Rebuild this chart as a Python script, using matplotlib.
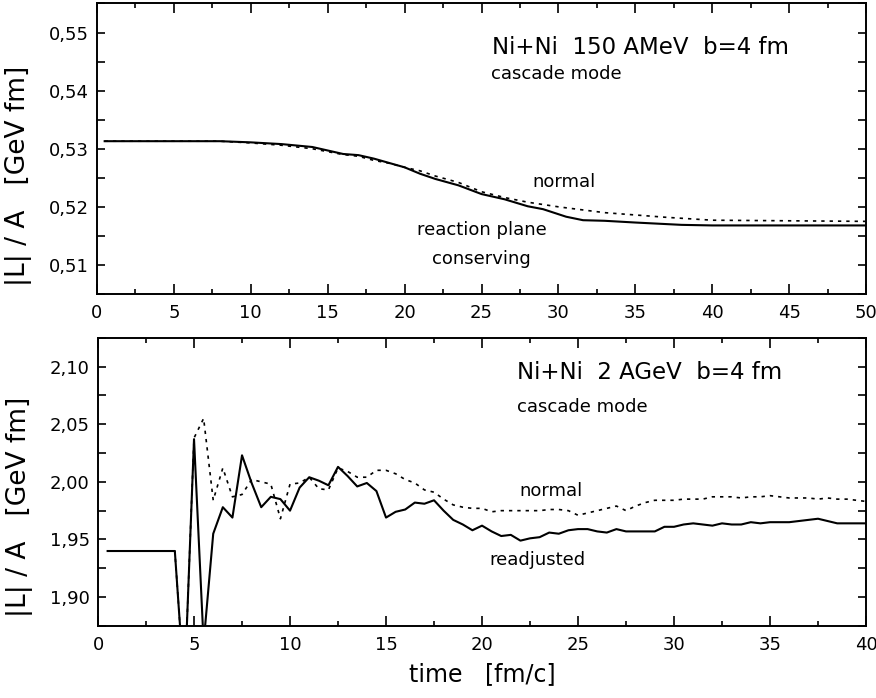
import matplotlib
matplotlib.use('Agg')
import matplotlib.pyplot as plt
from matplotlib.ticker import MultipleLocator, FuncFormatter

plt.rcParams['font.family'] = ['DejaVu Sans']

# panel 1: Ni+Ni 150 AMeV
t1_rpc = [0.5, 8, 10, 12, 14, 16, 17, 18, 20, 21, 22, 23.5, 25, 26.5, 28, 29, 30.5, 31.6, 33, 35, 38, 40, 45, 50]
L1_rpc = [0.5313, 0.5313, 0.5311, 0.5308, 0.5303, 0.5291, 0.5289, 0.5283, 0.5268, 0.5257, 0.5248, 0.5237,
          0.5222, 0.5213, 0.5201, 0.5196, 0.5183, 0.5177, 0.5176, 0.5173, 0.5169, 0.5168, 0.5168, 0.5168]
t1_norm = [0.5, 8, 10, 12, 14, 16, 17, 18, 19, 20, 21, 22, 23.5, 25, 26.5, 28, 30, 31.5, 33, 35, 37, 40, 45, 50]
L1_norm = [0.5313, 0.5313, 0.5310, 0.5306, 0.5300, 0.5290, 0.5287, 0.5280, 0.5275, 0.5268, 0.5262, 0.5253,
           0.5242, 0.5226, 0.5216, 0.5208, 0.5200, 0.5195, 0.5190, 0.5186, 0.5182, 0.5177, 0.5176, 0.5175]

# panel 2: Ni+Ni 2 AGeV
t2 = [0.5, 4.0, 4.5, 5.0, 5.5, 6.0, 6.5, 7.0, 7.5, 8.0, 8.5, 9.0, 9.5, 10.0, 10.5, 11.0, 11.5, 12.0, 12.5,
      13.0, 13.5, 14.0, 14.5, 15.0, 15.5, 16.0, 16.5, 17.0, 17.5, 18.0, 18.5, 19.0, 19.5, 20.0, 20.5, 21.0,
      21.5, 22.0, 22.5, 23.0, 23.5, 24.0, 24.5, 25.0, 25.5, 26.0, 26.5, 27.0, 27.5, 28.0, 28.5, 29.0, 29.5,
      30.0, 30.5, 31.0, 31.5, 32.0, 32.5, 33.0, 33.5, 34.0, 34.5, 35.0, 35.5, 36.0, 36.5, 37.0, 37.5, 38.0,
      38.5, 39.0, 39.5, 40.0]
L2_readj = [1.940, 1.940, 1.820, 2.037, 1.860, 1.955, 1.978, 1.969, 2.023, 1.999, 1.978, 1.987, 1.985, 1.975,
            1.995, 2.004, 2.001, 1.997, 2.013, 2.005, 1.996, 1.999, 1.992, 1.969, 1.974, 1.976, 1.982, 1.981,
            1.984, 1.975, 1.967, 1.963, 1.958, 1.962, 1.957, 1.953, 1.954, 1.949, 1.951, 1.952, 1.956, 1.955,
            1.958, 1.959, 1.959, 1.957, 1.956, 1.959, 1.957, 1.957, 1.957, 1.957, 1.961, 1.961, 1.963, 1.964,
            1.963, 1.962, 1.964, 1.963, 1.963, 1.965, 1.964, 1.965, 1.965, 1.965, 1.966, 1.967, 1.968, 1.966,
            1.964, 1.964, 1.964, 1.964]
L2_norm = [1.940, 1.940, 1.820, 2.038, 2.055, 1.984, 2.012, 1.987, 1.989, 2.002, 2.000, 1.998, 1.968, 1.998,
           1.999, 2.004, 1.994, 1.993, 2.012, 2.009, 2.004, 2.004, 2.010, 2.010, 2.007, 2.002, 1.999, 1.993,
           1.991, 1.985, 1.980, 1.978, 1.977, 1.977, 1.974, 1.975, 1.975, 1.975, 1.975, 1.975, 1.976, 1.976,
           1.975, 1.971, 1.973, 1.975, 1.977, 1.979, 1.975, 1.979, 1.982, 1.984, 1.984, 1.984, 1.985, 1.985,
           1.985, 1.987, 1.987, 1.987, 1.986, 1.987, 1.987, 1.988, 1.987, 1.986, 1.986, 1.986, 1.985, 1.986,
           1.985, 1.985, 1.984, 1.983]

coma = FuncFormatter(lambda v, p: ('%.2f' % v).replace('.', ','))
ylab = '|L| / A   [GeV fm]'


def estilo(ax, xmax, ymin, ymax, ymaj, ymin_step, ylab_y):
    ax.set_xlim(0, xmax)
    ax.set_ylim(ymin, ymax)
    ax.xaxis.set_major_locator(MultipleLocator(5))
    ax.xaxis.set_minor_locator(MultipleLocator(2.5))
    ax.yaxis.set_major_locator(MultipleLocator(ymaj))
    ax.yaxis.set_minor_locator(MultipleLocator(ymin_step))
    ax.yaxis.set_major_formatter(coma)
    ax.tick_params(which='both', direction='in', top=True, right=True, labelsize=13, width=1.2)
    ax.tick_params(axis='x', which='major', length=7, pad=7)
    ax.tick_params(axis='x', which='minor', length=3.5)
    ax.tick_params(axis='y', which='both', length=6, pad=6)
    for s in ax.spines.values():
        s.set_linewidth(1.4)
    ax.set_ylabel(ylab, fontsize=19)
    ax.yaxis.set_label_coords(-0.085, ylab_y)


fig = plt.figure(figsize=(8.76, 6.98), dpi=100)
ax1 = fig.add_axes([0.1107, 0.5788, 0.878, 0.4162])
ax2 = fig.add_axes([0.1119, 0.1032, 0.8767, 0.4130])

ax1.plot(t1_rpc, L1_rpc, color='k', lw=1.5)
ax1.plot(t1_norm, L1_norm, color='k', lw=1.2, linestyle=(0, (2, 3)))
estilo(ax1, 50, 0.505, 0.555, 0.01, 0.005, 0.405)
ax1.text(0.514, 0.85, 'Ni+Ni  150 AMeV  b=4 fm', transform=ax1.transAxes, fontsize=16.5, va='center')
ax1.text(0.512, 0.757, 'cascade mode', transform=ax1.transAxes, fontsize=13, va='center')
ax1.text(0.566, 0.387, 'normal', transform=ax1.transAxes, fontsize=13, va='center')
ax1.text(0.5, 0.222, 'reaction plane', transform=ax1.transAxes, fontsize=13, va='center', ha='center')
ax1.text(0.5, 0.12, 'conserving', transform=ax1.transAxes, fontsize=13, va='center', ha='center')

ax2.plot(t2, L2_readj, color='k', lw=1.5)
ax2.plot(t2, L2_norm, color='k', lw=1.2, linestyle=(0, (2, 3)))
estilo(ax2, 40, 1.875, 2.125, 0.05, 0.025, 0.413)
ax2.text(0.545, 0.88, 'Ni+Ni  2 AGeV  b=4 fm', transform=ax2.transAxes, fontsize=16.5, va='center')
ax2.text(0.545, 0.758, 'cascade mode', transform=ax2.transAxes, fontsize=13, va='center')
ax2.text(0.549, 0.467, 'normal', transform=ax2.transAxes, fontsize=13, va='center')
ax2.text(0.51, 0.23, 'readjusted', transform=ax2.transAxes, fontsize=13, va='center')
ax2.set_xlabel('time   [fm/c]', fontsize=17, labelpad=6)

plt.savefig('out.png', dpi=100)
